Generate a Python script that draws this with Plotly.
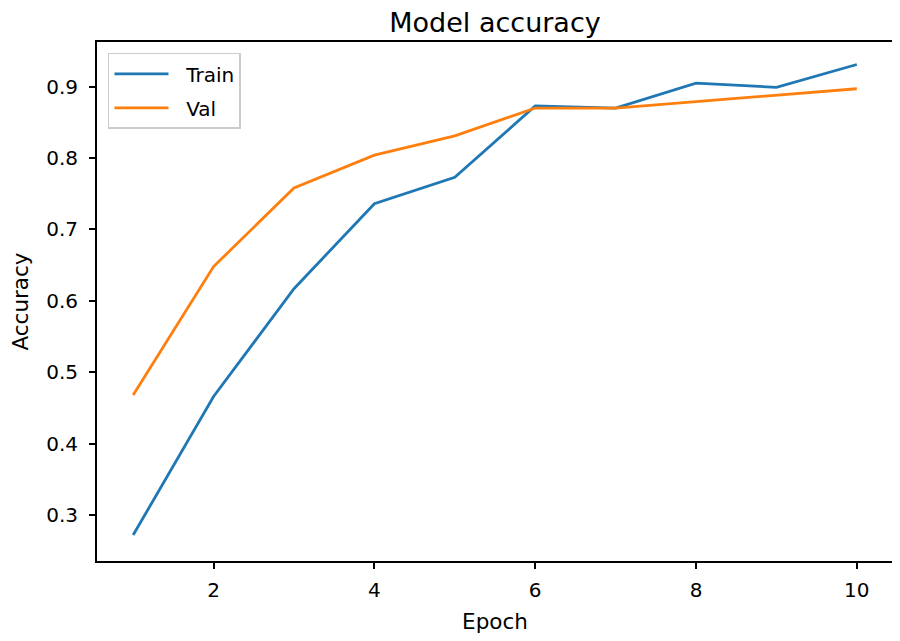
import plotly.graph_objects as go

epochs = [1, 2, 3, 4, 5, 6, 7, 8, 9, 10]
train_acc = [0.272, 0.466, 0.617, 0.736, 0.773, 0.873, 0.870, 0.905, 0.899, 0.931]
val_acc = [0.468, 0.648, 0.758, 0.804, 0.831, 0.870, 0.870, 0.879, 0.889, 0.897]
x_ticks = [2, 4, 6, 8, 10]
y_ticks = [0.3, 0.4, 0.5, 0.6, 0.7, 0.8, 0.9]

font = "DejaVu Sans"
pad = "\u00a0\u00a0"
fig = go.Figure()
fig.add_trace(go.Scatter(x=epochs, y=train_acc, mode="lines", name=pad + "Train",
                         legendgroup="train",
                         line=dict(color="#1f77b4", width=2.8)))
fig.add_trace(go.Scatter(x=epochs, y=val_acc, mode="lines", name=pad + "Val",
                         legendgroup="val",
                         line=dict(color="#ff7f0e", width=2.8)))

axis_common = dict(showgrid=False, zeroline=False, showline=True, linecolor="black",
                   linewidth=1.8, mirror=True, ticks="outside", ticklen=6, tickwidth=1.6,
                   tickcolor="black", automargin=False,
                   tickfont=dict(family=font, size=20, color="black"))

fig.update_layout(
    width=900, height=641,
    paper_bgcolor="white", plot_bgcolor="white",
    margin=dict(l=89, r=15, t=34, b=88),
    title=dict(text="Model accuracy", x=0.5, xref="paper", xanchor="center",
               y=0.977, yanchor="middle",
               font=dict(family=font, size=27, color="black")),
    xaxis=dict(range=[0.55, 10.45], tickvals=x_ticks, ticklabelstandoff=4,
               title=dict(text="Epoch", font=dict(family=font, size=21.5, color="black"), standoff=13),
               **axis_common),
    yaxis=dict(range=[0.2356, 0.9625], tickvals=y_ticks, tickformat=".1f", ticklabelstandoff=7,
               title=dict(text="Accuracy", font=dict(family=font, size=21.5, color="black"), standoff=26),
               **axis_common),
    legend=dict(x=0.0138, y=0.979, xanchor="left", yanchor="top",
                bgcolor="rgba(255,255,255,0.8)", bordercolor="#cccccc", borderwidth=1.5,
                font=dict(family=font, size=20, color="black"),
                itemwidth=54, tracegroupgap=5),
    showlegend=True,
)

fig.write_html("out.html")
